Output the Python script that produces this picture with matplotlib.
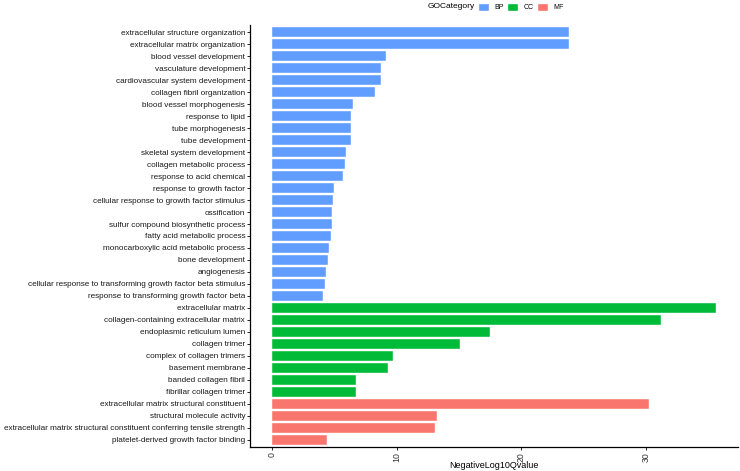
import matplotlib
matplotlib.use("Agg")
import matplotlib.pyplot as plt
import numpy as np
from matplotlib.patches import Patch

plt.rcParams['font.family'] = ['Liberation Sans', 'DejaVu Sans']

# GO terms, top to bottom
terms = [
    "extracellular structure organization",
    "extracellular matrix organization",
    "blood vessel development",
    "vasculature development",
    "cardiovascular system development",
    "collagen fibril organization",
    "blood vessel morphogenesis",
    "response to lipid",
    "tube morphogenesis",
    "tube development",
    "skeletal system development",
    "collagen metabolic process",
    "response to acid chemical",
    "response to growth factor",
    "cellular response to growth factor stimulus",
    "ossification",
    "sulfur compound biosynthetic process",
    "fatty acid metabolic process",
    "monocarboxylic acid metabolic process",
    "bone development",
    "angiogenesis",
    "cellular response to transforming growth factor beta stimulus",
    "response to transforming growth factor beta",
    "extracellular matrix",
    "collagen-containing extracellular matrix",
    "endoplasmic reticulum lumen",
    "collagen trimer",
    "complex of collagen trimers",
    "basement membrane",
    "banded collagen fibril",
    "fibrillar collagen trimer",
    "extracellular matrix structural constituent",
    "structural molecule activity",
    "extracellular matrix structural constituent conferring tensile strength",
    "platelet-derived growth factor binding",
]

values = [
    23.8, 23.8, 9.1, 8.75, 8.7, 8.25, 6.45, 6.3, 6.3, 6.3, 5.9, 5.85, 5.7,
    5.0, 4.9, 4.8, 4.8, 4.75, 4.55, 4.5, 4.3, 4.2, 4.05,
    35.6, 31.2, 17.5, 15.1, 9.7, 9.3, 6.7, 6.7,
    30.25, 13.25, 13.05, 4.4,
]

categories = ["BP"] * 23 + ["CC"] * 8 + ["MF"] * 4

colors = {"BP": "#619CFF", "CC": "#00BA38", "MF": "#F8766D"}

fig = plt.figure(figsize=(7.4, 4.71), dpi=100)
ax = fig.add_axes([250 / 740, 24 / 471, (738 - 250) / 740, (447 - 25) / 471])

y = np.arange(len(terms))
ax.barh(y, values, height=0.8, color=[colors[c] for c in categories],
        edgecolor="white", linewidth=0.3)

ax.set_yticks(y)
ax.set_yticklabels(terms, fontsize=5.85, color="#1a1a1a")
ax.set_ylim(len(terms) - 0.4, -0.6)
xmax = max(values)
ax.set_xlim(-0.05 * xmax, xmax * 1.05)
ax.set_xticks([0, 10, 20, 30])
ax.set_xticklabels(["0", "10", "20", "30"], rotation=90, fontsize=6.3, color="#333333")
ax.set_xlabel("NegativeLog10Qvalue", fontsize=6.5, va="center")
ax.xaxis.set_label_coords(0.5, -18 / 422)

for s in ["top", "right"]:
    ax.spines[s].set_visible(False)
for s in ["left", "bottom"]:
    ax.spines[s].set_linewidth(0.9)
ax.tick_params(axis="both", length=2, width=0.6, pad=1.5)

fig.text(428 / 740, 1 - 7 / 471, "GOCategory", fontsize=6, va="center", ha="left")
handles = [Patch(facecolor=colors[k], edgecolor="white", label=k) for k in ["BP", "CC", "MF"]]
fig.legend(handles=handles, ncol=3, loc="center left",
           bbox_to_anchor=(478 / 740, 1 - 7 / 471), frameon=False,
           fontsize=5, handlelength=1.6, handleheight=1.6,
           handletextpad=0.7, columnspacing=0.55, borderaxespad=0, borderpad=0)

fig.savefig("out.png", dpi=100)
